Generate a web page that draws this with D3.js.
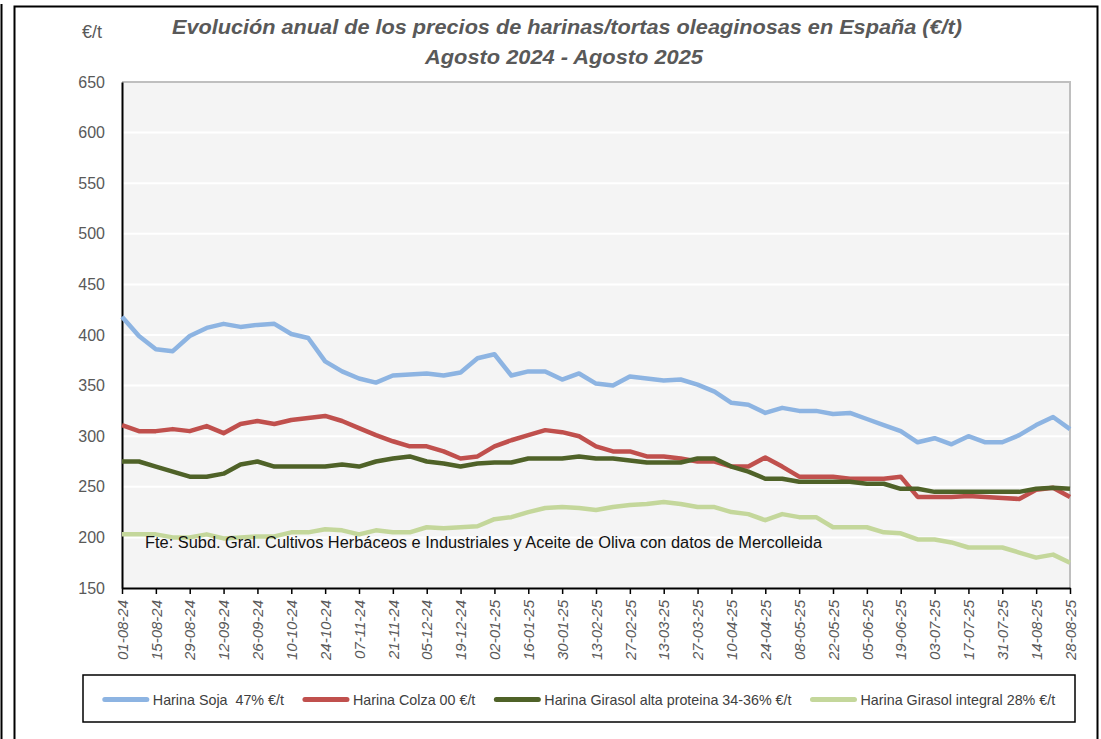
<!DOCTYPE html>
<html>
<head>
<meta charset="utf-8">
<script src="https://cdn.jsdelivr.net/npm/d3@7"></script>
<style>
  html, body { margin: 0; padding: 0; background: #ffffff; }
  svg { display: block; }
  text { font-family: "Liberation Sans", Arial, sans-serif; }
</style>
</head>
<body>
<svg id="chart" width="1101" height="739"></svg>
<script>
// ---------------- DATA ----------------
const dates = [
  "01-08-24","08-08-24","15-08-24","22-08-24","29-08-24","05-09-24","12-09-24","19-09-24","26-09-24",
  "03-10-24","10-10-24","17-10-24","24-10-24","31-10-24","07-11-24","14-11-24","21-11-24","28-11-24",
  "05-12-24","12-12-24","19-12-24","26-12-24","02-01-25","09-01-25","16-01-25","23-01-25","30-01-25",
  "06-02-25","13-02-25","20-02-25","27-02-25","06-03-25","13-03-25","20-03-25","27-03-25","03-04-25",
  "10-04-25","17-04-25","24-04-25","01-05-25","08-05-25","15-05-25","22-05-25","29-05-25","05-06-25",
  "12-06-25","19-06-25","26-06-25","03-07-25","10-07-25","17-07-25","24-07-25","31-07-25","07-08-25",
  "14-08-25","21-08-25","28-08-25"
];
const tickLabels = [
  "01-08-24","15-08-24","29-08-24","12-09-24","26-09-24","10-10-24","24-10-24","07-11-24","21-11-24",
  "05-12-24","19-12-24","02-01-25","16-01-25","30-01-25","13-02-25","27-02-25","13-03-25","27-03-25",
  "10-04-25","24-04-25","08-05-25","22-05-25","05-06-25","19-06-25","03-07-25","17-07-25","31-07-25",
  "14-08-25","28-08-25"
];
const yTicks = [150, 200, 250, 300, 350, 400, 450, 500, 550, 600, 650];

const sojaValues = [418,399,386,384,399,407,411,408,410,411,401,397,374,364,357,353,360,361,362,360,
  363,377,381,360,364,364,356,362,352,350,359,357,355,356,351,344,333,331,323,328,
  325,325,322,323,317,311,305,294,298,292,300,294,294,301,311,319,307];
const colzaValues = [311,305,305,307,305,310,303,312,315,312,316,318,320,315,308,301,295,290,290,285,
  278,280,290,296,301,306,304,300,290,285,285,280,280,278,275,275,270,270,279,270,
  260,260,260,258,258,258,260,240,240,240,241,240,239,238,247,249,240];
const girasolAltaValues = [275,275,270,265,260,260,263,272,275,270,270,270,270,272,270,275,278,280,275,273,
  270,273,274,274,278,278,278,280,278,278,276,274,274,274,278,278,270,265,258,258,
  255,255,255,255,253,253,248,248,245,245,245,245,245,245,248,249,248];
const girasolIntegralValues = [203,203,203,200,200,203,199,200,201,201,205,205,208,207,203,207,205,205,210,209,
  210,211,218,220,225,229,230,229,227,230,232,233,235,233,230,230,225,223,217,223,
  220,220,210,210,210,205,204,198,198,195,190,190,190,185,180,183,175];

const seriesNames = ["Harina Soja  47% €/t", "Harina Colza 00 €/t",
  "Harina Girasol alta proteina 34-36% €/t", "Harina Girasol integral 28% €/t"];
const seriesColors = ["#8db4e2", "#c0504d", "#4f6228", "#c4d79b"];

const titleLine1 = "Evolución anual de los precios de harinas/tortas oleaginosas en España (€/t)";
const titleLine2 = "Agosto 2024 - Agosto 2025";
const yUnit = "€/t";
const sourceText = "Fte: Subd. Gral. Cultivos Herbáceos e Industriales y Aceite de Oliva con datos de Mercolleida";

// ---------------- LAYOUT ----------------
const svg = d3.select("#chart");
const plot = { left: 122, right: 1070, top: 82, bottom: 588 };

const x = d3.scalePoint().domain(dates).range([plot.left, plot.right]);
const y = d3.scaleLinear().domain([150, 650]).range([plot.bottom, plot.top]);

// outer frame and left edge line
svg.append("line").attr("x1", 1.5).attr("x2", 1.5).attr("y1", 4).attr("y2", 739)
  .attr("stroke", "#000").attr("stroke-width", 2);
svg.append("rect").attr("x", 14.5).attr("y", 6.5).attr("width", 1083).attr("height", 800)
  .attr("fill", "none").attr("stroke", "#000").attr("stroke-width", 2);

// plot background
svg.append("rect").attr("x", plot.left).attr("y", plot.top)
  .attr("width", plot.right - plot.left).attr("height", plot.bottom - plot.top)
  .attr("fill", "#f4f4f4");

// gridlines
svg.append("g").selectAll("line").data(yTicks.filter(d => d > 150)).join("line")
  .attr("x1", plot.left).attr("x2", plot.right)
  .attr("y1", d => y(d)).attr("y2", d => y(d))
  .attr("stroke", "#ffffff").attr("stroke-width", 2);

// top/right plot border
svg.append("path")
  .attr("d", `M${plot.left},${plot.top}H${plot.right}V${plot.bottom}`)
  .attr("fill", "none").attr("stroke", "#bfbfbf").attr("stroke-width", 2);

// Y axis
const yAxis = d3.axisLeft(y).tickValues(yTicks).tickSize(0).tickPadding(17);
const gy = svg.append("g").attr("transform", `translate(${plot.left},0)`).call(yAxis);
gy.select(".domain").attr("stroke", "#000").attr("stroke-width", 2);
gy.selectAll("text").attr("font-size", 16).attr("fill", "#595959")
  .attr("font-family", "Liberation Sans, Arial, sans-serif");

// X axis
const xAxis = d3.axisBottom(x).tickValues(tickLabels).tickSize(6).tickSizeOuter(0);
const gx = svg.append("g").attr("transform", `translate(0,${plot.bottom})`).call(xAxis);
gx.select(".domain").attr("stroke", "#000").attr("stroke-width", 2);
gx.selectAll(".tick line").attr("stroke", "#000").attr("stroke-width", 1.5);
gx.selectAll("text")
  .attr("font-size", 15).attr("font-style", "italic").attr("fill", "#595959")
  .attr("font-family", "Liberation Sans, Arial, sans-serif")
  .attr("text-anchor", "end")
  .attr("transform", "rotate(-90)")
  .attr("x", -12).attr("y", 0).attr("dy", "0.35em");

// Lines
const allSeries = [sojaValues, colzaValues, girasolAltaValues, girasolIntegralValues];
const line = d3.line().x((d, i) => x(dates[i])).y(d => y(d));
svg.append("g").selectAll("path").data(allSeries).join("path")
  .attr("d", d => line(d))
  .attr("fill", "none")
  .attr("stroke", (d, i) => seriesColors[i])
  .attr("stroke-width", 4.5)
  .attr("stroke-linejoin", "round")
  .attr("stroke-linecap", "butt");

// Source text
svg.append("text").attr("x", 145).attr("y", 548)
  .attr("font-size", 16).attr("fill", "#111")
  .attr("textLength", 677).attr("lengthAdjust", "spacingAndGlyphs")
  .text(sourceText);

// Titles
svg.append("text").attr("x", 567).attr("y", 34).attr("text-anchor", "middle")
  .attr("font-size", 20).attr("font-weight", "bold").attr("font-style", "italic").attr("fill", "#595959")
  .attr("textLength", 790).attr("lengthAdjust", "spacingAndGlyphs")
  .text(titleLine1);
svg.append("text").attr("x", 564).attr("y", 64).attr("text-anchor", "middle")
  .attr("font-size", 20).attr("font-weight", "bold").attr("font-style", "italic").attr("fill", "#595959")
  .attr("textLength", 278).attr("lengthAdjust", "spacingAndGlyphs")
  .text(titleLine2);
svg.append("text").attr("x", 82).attr("y", 38)
  .attr("font-size", 18).attr("fill", "#595959").text(yUnit);

// Legend
const legBox = { x: 83, y: 675, w: 992, h: 47 };
svg.append("rect").attr("x", legBox.x).attr("y", legBox.y).attr("width", legBox.w).attr("height", legBox.h)
  .attr("fill", "#fff").attr("stroke", "#000").attr("stroke-width", 1.5);
const legG = svg.append("g");
const swatch = 46, gapSw = 4, gapItem = 19;
let cx = 0;
const cy = legBox.y + legBox.h / 2 + 1;
seriesNames.forEach((name, i) => {
  legG.append("line").attr("x1", cx + 2).attr("x2", cx + swatch - 2).attr("y1", cy).attr("y2", cy)
    .attr("stroke", seriesColors[i]).attr("stroke-width", 5).attr("stroke-linecap", "round");
  const t = legG.append("text").attr("x", cx + swatch + gapSw).attr("y", cy).attr("dy", "0.35em")
    .attr("font-size", 14.3).attr("fill", "#404040").style("white-space", "pre").text(name);
  cx += swatch + gapSw + t.node().getComputedTextLength() + gapItem;
});
const legW = cx - gapItem;
legG.attr("transform", `translate(${legBox.x + (legBox.w - legW) / 2},0)`);
</script>
</body>
</html>
